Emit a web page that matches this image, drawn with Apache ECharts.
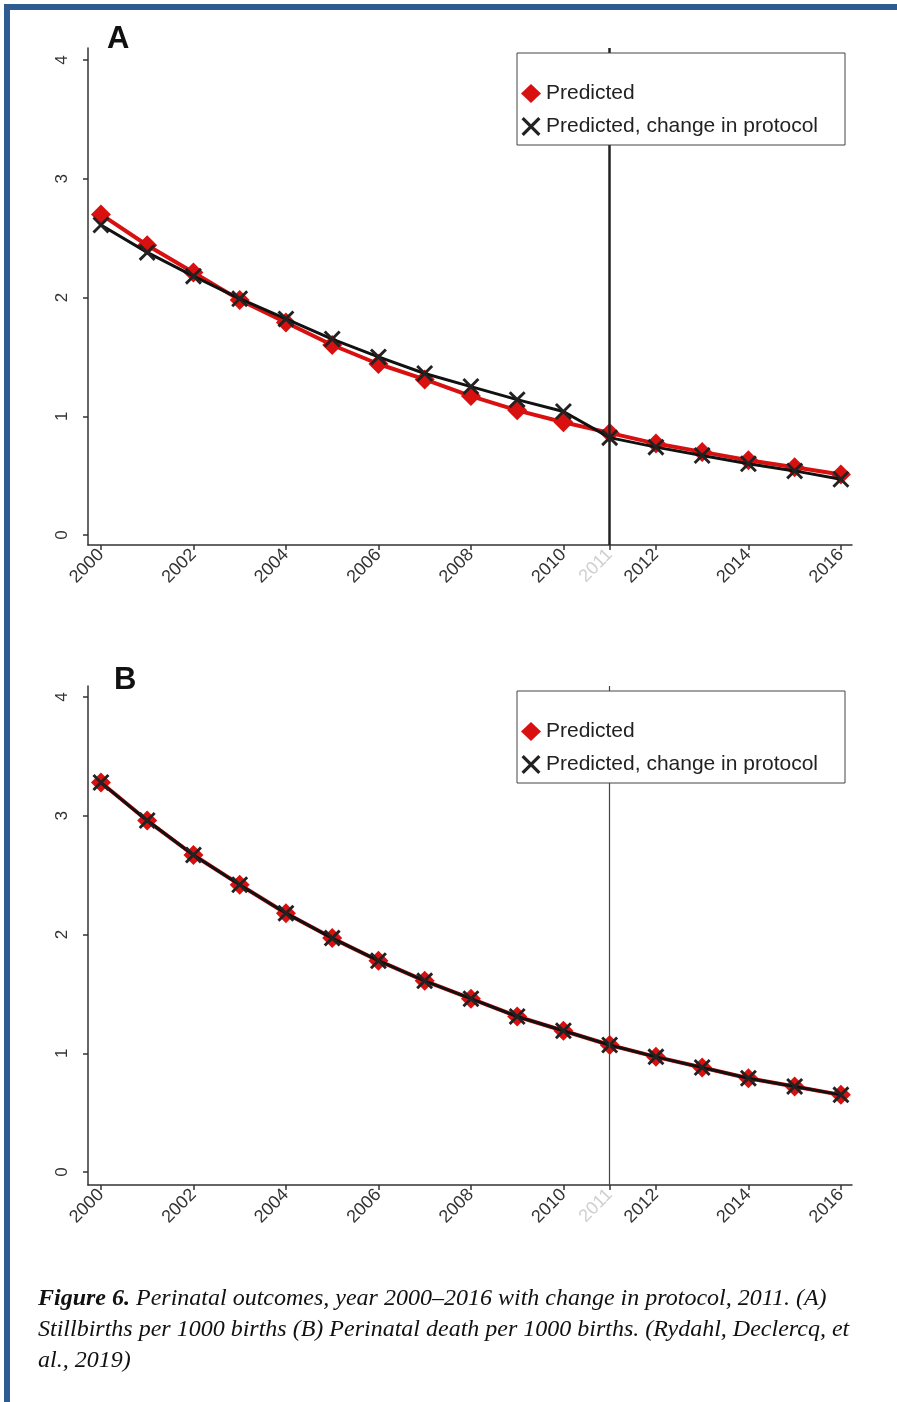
<!DOCTYPE html>
<html>
<head>
<meta charset="utf-8">
<script src="https://cdn.jsdelivr.net/npm/echarts@6/dist/echarts.min.js"></script>
<style>
html,body{margin:0;padding:0;background:#fff;width:897px;height:1402px;overflow:hidden;}
#chart{position:absolute;left:0;top:0;width:897px;height:1402px;}
#bt{position:absolute;left:4px;top:4px;width:893px;height:6px;background:#2d5b92;}
#bl{position:absolute;left:4px;top:4px;width:6px;height:1398px;background:#2d5b92;}
#cap{position:absolute;left:38px;top:1282px;font-family:"Liberation Serif","Times New Roman",serif;font-style:italic;font-size:24px;line-height:31px;color:#111;white-space:nowrap;}
</style>
</head>
<body>
<div id="chart"></div>
<div id="bt"></div><div id="bl"></div>
<div id="cap"><b>Figure 6.</b> Perinatal outcomes, year 2000–2016 with change in protocol, 2011. (A)<br>Stillbirths per 1000 births (B) Perinatal death per 1000 births. (Rydahl, Declercq, et<br>al., 2019)</div>
<script>
// ---- data ----
const years = [2000,2001,2002,2003,2004,2005,2006,2007,2008,2009,2010,2011,2012,2013,2014,2015,2016];
const aPredicted = [2.70,2.44,2.21,1.98,1.79,1.60,1.44,1.31,1.17,1.05,0.95,0.86,0.77,0.70,0.63,0.57,0.51];
const aChange    = [2.61,2.38,2.18,1.99,1.82,1.65,1.50,1.36,1.25,1.14,1.04,0.82,0.74,0.67,0.60,0.54,0.47];
const bPredicted = [3.28,2.96,2.67,2.42,2.18,1.97,1.78,1.61,1.46,1.31,1.19,1.07,0.97,0.88,0.79,0.72,0.65];
const bChange    = [3.28,2.96,2.67,2.42,2.18,1.97,1.78,1.61,1.46,1.31,1.19,1.07,0.97,0.88,0.79,0.72,0.65];
const xTicks = [2000,2002,2004,2006,2008,2010,2011,2012,2014,2016];
const yTicks = [0,1,2,3,4];
const protocolYear = 2011;
const seriesNames = ['Predicted','Predicted, change in protocol'];
const panelLetters = ['A','B'];

const xPath = 'path://M0,1.2 L1.2,0 L5,3.8 L8.8,0 L10,1.2 L6.2,5 L10,8.8 L8.8,10 L5,6.2 L1.2,10 L0,8.8 L3.8,5 Z';
const RED = '#d81010';
const BLK = '#111111';
const FONT = 'Liberation Sans, Arial, sans-serif';

function pairs(v){ return years.map((y,i)=>[y,v[i]]); }

function xAxis(gi){
  return {
    type:'value', gridIndex:gi, min:1999.72, max:2016.24,
    splitLine:{show:false},
    axisLine:{show:true,onZero:false,lineStyle:{color:'#333',width:1.5}},
    axisTick:{show:true,length:5,lineStyle:{color:'#333',width:1.5},customValues:xTicks},
    axisLabel:{rotate:45,fontSize:18,color:'#333',fontFamily:FONT,margin:7,customValues:xTicks,
      formatter:v=> v===protocolYear ? '{g|'+v+'}' : String(v),
      rich:{g:{color:'#cfcfcf',fontSize:18,fontFamily:FONT}}}
  };
}
function yAxis(gi,min,max){
  return {
    type:'value', gridIndex:gi, min:min, max:max,
    splitLine:{show:false},
    axisLine:{show:true,onZero:false,lineStyle:{color:'#333',width:1.5}},
    axisTick:{show:true,length:5,lineStyle:{color:'#333',width:1.5},customValues:yTicks},
    axisLabel:{rotate:90,fontSize:17,color:'#333',fontFamily:FONT,margin:17,customValues:yTicks}
  };
}
function series(gi,predicted,change,vlineWidth,vlineColor){
  return [
    {name:seriesNames[0],type:'line',xAxisIndex:gi,yAxisIndex:gi,data:pairs(predicted),
      symbol:'diamond',symbolSize:20,itemStyle:{color:RED},lineStyle:{color:RED,width:4},z:2,
      markLine:{silent:true,symbol:'none',label:{show:false},
        lineStyle:{color:vlineColor,width:vlineWidth,type:'solid'},
        data:[{xAxis:protocolYear}]}},
    {name:seriesNames[1],type:'line',xAxisIndex:gi,yAxisIndex:gi,data:pairs(change),
      symbol:xPath,symbolSize:17,itemStyle:{color:'#222'},lineStyle:{color:BLK,width:3},z:3}
  ];
}
function legend(top){
  return {
    orient:'vertical',left:517,top:top,z:20,
    backgroundColor:'#fff',borderColor:'#444',borderWidth:1,
    padding:[30,27,8,4],itemGap:12,itemWidth:20,itemHeight:19,
    textStyle:{fontSize:21,color:'#222',fontFamily:FONT},
    selectedMode:false,
    data:[{name:seriesNames[0],icon:'diamond'},{name:seriesNames[1],icon:xPath}]
  };
}

const chart = echarts.init(document.getElementById('chart'),null,{renderer:'canvas'});
chart.setOption({
  animation:false,
  backgroundColor:'transparent',
  grid:[
    {left:88,top:48,width:764,height:497},
    {left:88,top:686,width:764,height:499}
  ],
  xAxis:[xAxis(0),xAxis(1)],
  yAxis:[yAxis(0,-0.084,4.101),yAxis(1,-0.109,4.093)],
  legend:[legend(53),legend(691)],
  series:[].concat(series(0,aPredicted,aChange,2.5,'#222'),series(1,bPredicted,bChange,1.2,'#444')),
  graphic:[
    {type:'text',left:107,top:24,style:{text:panelLetters[0],fontSize:31,fontFamily:FONT,fill:'#111',fontWeight:'bold'}},
    {type:'text',left:114,top:665,style:{text:panelLetters[1],fontSize:31,fontFamily:FONT,fill:'#111',fontWeight:'bold'}}
  ]
});
</script>
</body>
</html>
